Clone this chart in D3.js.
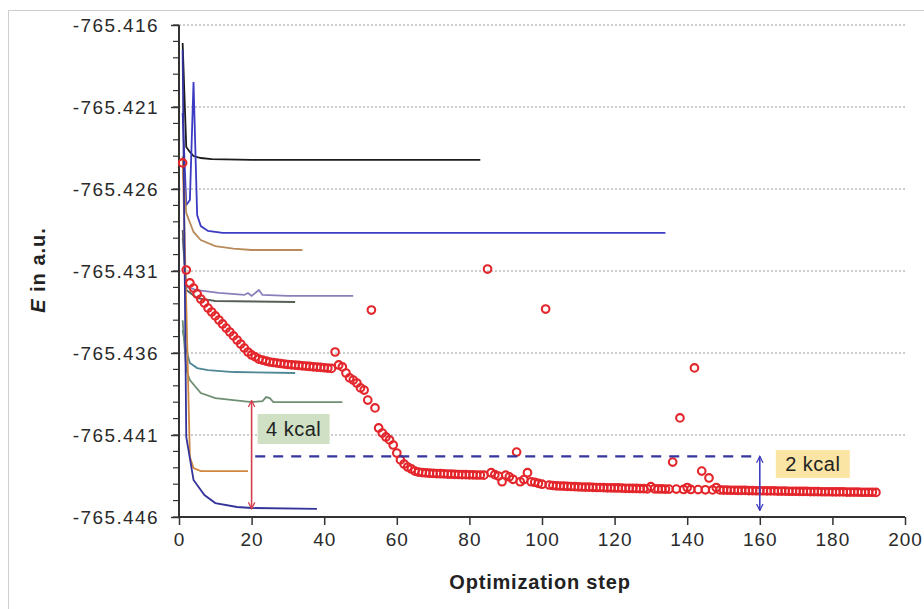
<!DOCTYPE html>
<html>
<head>
<meta charset="utf-8">
<script src="https://cdn.jsdelivr.net/npm/d3@7"></script>
<style>
  body { margin: 0; background: #fff; }
  svg { display: block; font-family: "Liberation Sans", Arial, sans-serif; }
</style>
</head>
<body>
<svg id="chart" width="924" height="609"></svg>
<script>
// axis ticks
var xTicks = [0, 20, 40, 60, 80, 100, 120, 140, 160, 180, 200];
var yTicks = [-765.446, -765.441, -765.436, -765.431, -765.426, -765.421, -765.416];

// individual optimisation runs: [step, energy]
var runBlack  = [[1,-765.4171],[2,-765.42344],[3,-765.42374],[4,-765.42399],[6,-765.42411],[9,-765.42418],[20,-765.42423],[83,-765.42423]];
var runBlue   = [[1,-765.42137],[2,-765.42698],[3,-765.42667],[4,-765.41948],[5,-765.42759],[6,-765.42826],[8,-765.42856],[12,-765.42868],[134,-765.42868]];
var runTan    = [[1,-765.4245],[2,-765.42746],[4,-765.42862],[6,-765.42911],[10,-765.42948],[15,-765.42963],[20,-765.42972],[34,-765.42972]];
var runPurple = [[1,-765.4290],[2,-765.43198],[5,-765.43216],[11,-765.43234],[18,-765.43246],[19,-765.43234],[20,-765.43252],[22,-765.43216],[23,-765.43246],[30,-765.43252],[48,-765.43252]];
var runGray   = [[1,-765.4285],[2,-765.43216],[5,-765.43265],[10,-765.43283],[32,-765.43289]];
var runTeal   = [[1,-765.4346],[2,-765.43581],[3,-765.43661],[5,-765.43692],[8,-765.43704],[15,-765.43716],[32,-765.43722]];
var runGreen  = [[1,-765.4340],[2,-765.43704],[3,-765.43765],[6,-765.43844],[10,-765.43875],[15,-765.43887],[20,-765.43899],[23,-765.43893],[24,-765.43869],[25,-765.43875],[26,-765.43899],[45,-765.43899]];
var runOrange = [[1,-765.4240],[2,-765.4330],[3,-765.44234],[4,-765.44301],[6,-765.44320],[19,-765.44320]];
var runNavy   = [[1,-765.4175],[2,-765.44112],[4,-765.44374],[7,-765.44466],[10,-765.44515],[16,-765.44539],[20,-765.44545],[38,-765.44551]];

var runs = [
  {data: runBlack,  color: '#1c1c1c'},
  {data: runBlue,   color: '#3b3bc4'},
  {data: runTan,    color: '#b98a5a'},
  {data: runPurple, color: '#8a7fb8'},
  {data: runGray,   color: '#566056'},
  {data: runTeal,   color: '#4e8796'},
  {data: runGreen,  color: '#6f8f72'},
  {data: runOrange, color: '#cf8740'},
  {data: runNavy,   color: '#33339a'}
];

// long run, one energy per step (step 1 .. 192)
var longRun = [
  -765.42441,-765.43094,-765.43173,-765.43204,-765.43240,-765.43271,-765.43295,-765.43326,-765.43350,-765.43374,
  -765.43399,-765.43423,-765.43448,-765.43472,-765.43496,-765.43521,-765.43545,-765.43570,-765.43594,-765.43612,
  -765.43624,-765.43637,-765.43643,-765.43649,-765.43655,-765.43658,-765.43661,-765.43664,-765.43667,-765.43670,
  -765.43672,-765.43674,-765.43676,-765.43678,-765.43680,-765.43682,-765.43684,-765.43686,-765.43688,-765.43690,
  -765.43692,-765.43694,-765.43594,-765.43673,-765.43685,-765.43722,-765.43752,-765.43765,-765.43783,-765.43813,
  -765.43826,-765.43887,-765.43338,-765.43935,-765.44057,-765.44088,-765.44112,-765.44130,-765.44161,-765.44210,
  -765.44252,-765.44277,-765.44295,-765.44307,-765.44320,-765.44326,-765.44329,-765.44331,-765.44333,-765.44334,
  -765.44335,-765.44336,-765.44337,-765.44338,-765.44339,-765.44340,-765.44341,-765.44342,-765.44342,-765.44343,
  -765.44343,-765.44344,-765.44344,-765.44345,-765.43088,-765.44330,-765.44342,-765.44350,-765.44385,-765.44345,
  -765.44355,-765.44370,-765.44204,-765.44385,-765.44372,-765.44330,-765.44385,-765.44388,-765.44395,-765.44400,
  -765.43332,-765.44405,-765.44408,-765.44410,-765.44411,-765.44412,-765.44413,-765.44414,-765.44415,-765.44416,
  -765.44417,-765.44418,-765.44418,-765.44419,-765.44420,-765.44420,-765.44421,-765.44422,-765.44422,-765.44423,
  -765.44423,-765.44424,-765.44425,-765.44425,-765.44426,-765.44426,-765.44427,-765.44427,-765.44428,-765.44415,
  -765.44428,-765.44429,-765.44429,-765.44430,-765.44430,-765.44265,-765.44430,-765.43996,-765.44432,-765.44420,
  -765.44432,-765.43691,-765.44433,-765.44320,-765.44434,-765.44362,-765.44435,-765.44420,-765.44435,-765.44436,
  -765.44436,-765.44437,-765.44437,-765.44438,-765.44438,-765.44438,-765.44439,-765.44439,-765.44440,-765.44440,
  -765.44440,-765.44441,-765.44441,-765.44441,-765.44442,-765.44442,-765.44442,-765.44443,-765.44443,-765.44443,
  -765.44444,-765.44444,-765.44444,-765.44445,-765.44445,-765.44445,-765.44446,-765.44446,-765.44446,-765.44447,
  -765.44447,-765.44447,-765.44447,-765.44448,-765.44448,-765.44448,-765.44448,-765.44449,-765.44449,-765.44449,
  -765.44449,-765.44450
];

// annotations
var gap4 = {step: 20, top: -765.4389, bottom: -765.4455, label: '4 kcal'};
var gap2 = {step: 160, top: -765.4423, bottom: -765.4456, label: '2 kcal', from: 21};

var svg = d3.select('#chart');
var plotLeft = 179, plotRight = 905, plotTop = 25, plotBottom = 517;

var x = d3.scaleLinear().domain([0, 200]).range([plotLeft, plotRight]);
var y = d3.scaleLinear().domain([-765.446, -765.416]).range([plotBottom, plotTop]);

// outer frame
svg.append('rect')
  .attr('x', 8.5).attr('y', 10.5).attr('width', 940).attr('height', 640)
  .attr('fill', 'none').attr('stroke', '#cfcfcf');

// grid
svg.append('g').selectAll('line')
  .data(yTicks.slice(1))
  .join('line')
  .attr('x1', plotLeft).attr('x2', plotRight)
  .attr('y1', function(d) { return y(d); }).attr('y2', function(d) { return y(d); })
  .attr('stroke', '#9a9a9a').attr('stroke-width', 1)
  .attr('stroke-dasharray', '2,2');

// y axis
var yAxis = d3.axisLeft(y).tickValues(yTicks)
  .tickFormat(function(d) { return d.toFixed(3); })
  .tickSize(8).tickPadding(12);
var gy = svg.append('g').attr('transform', 'translate(' + plotLeft + ',0)').call(yAxis);
gy.select('.domain').remove();
gy.selectAll('.tick line').attr('stroke', '#333').attr('stroke-width', 1.5);
gy.selectAll('.tick text')
  .attr('font-size', 19).attr('letter-spacing', 1.4).attr('fill', '#2a2a2a')
  .attr('font-family', '"Liberation Sans", Arial, sans-serif');

var minor = d3.range(0, 31).map(function(i) { return -765.446 + i * 0.001; });
svg.append('g').selectAll('line')
  .data(minor)
  .join('line')
  .attr('x1', plotLeft - 6).attr('x2', plotLeft)
  .attr('y1', function(d) { return y(d); }).attr('y2', function(d) { return y(d); })
  .attr('stroke', '#333').attr('stroke-width', 1.2);

svg.append('line')
  .attr('x1', plotLeft).attr('x2', plotLeft).attr('y1', plotTop).attr('y2', plotBottom)
  .attr('stroke', '#333').attr('stroke-width', 2);

// x axis
var xAxis = d3.axisBottom(x).tickValues(xTicks).tickSize(8).tickPadding(8);
var gx = svg.append('g').attr('transform', 'translate(0,' + plotBottom + ')').call(xAxis);
gx.select('.domain').attr('stroke', '#333').attr('stroke-width', 2).attr('d', 'M' + plotLeft + ',0H' + plotRight);
gx.selectAll('.tick line').attr('stroke', '#333').attr('stroke-width', 1.5);
gx.selectAll('.tick text')
  .attr('font-size', 19).attr('letter-spacing', 1).attr('fill', '#2a2a2a')
  .attr('font-family', '"Liberation Sans", Arial, sans-serif');

// axis titles
svg.append('text')
  .attr('x', 540).attr('y', 589)
  .attr('text-anchor', 'middle')
  .attr('font-size', 20).attr('font-weight', 'bold').attr('letter-spacing', 0.8)
  .attr('fill', '#222')
  .text('Optimization step');

var yt = svg.append('text')
  .attr('transform', 'translate(45,270) rotate(-90)')
  .attr('text-anchor', 'middle')
  .attr('font-size', 20).attr('font-weight', 'bold').attr('letter-spacing', 1)
  .attr('fill', '#222');
yt.append('tspan').attr('font-style', 'italic').text('E');
yt.append('tspan').text(' in a.u.');

// runs
var line = d3.line()
  .x(function(d) { return x(d[0]); })
  .y(function(d) { return y(d[1]); });

svg.append('g').selectAll('path')
  .data(runs)
  .join('path')
  .attr('d', function(d) { return line(d.data); })
  .attr('fill', 'none')
  .attr('stroke', function(d) { return d.color; })
  .attr('stroke-width', 1.8);

// long run markers
svg.append('g').selectAll('circle')
  .data(longRun)
  .join('circle')
  .attr('cx', function(d, i) { return x(i + 1); })
  .attr('cy', function(d) { return y(d); })
  .attr('r', 3.8)
  .attr('fill', 'none')
  .attr('stroke', '#e3262b')
  .attr('stroke-width', 2.1);

// arrow markers
var defs = svg.append('defs');
function arrowHead(id, color) {
  defs.append('marker')
    .attr('id', id)
    .attr('viewBox', '0 0 10 10')
    .attr('refX', 9).attr('refY', 5)
    .attr('markerWidth', 8).attr('markerHeight', 8)
    .attr('markerUnits', 'userSpaceOnUse')
    .attr('orient', 'auto-start-reverse')
    .append('path')
    .attr('d', 'M1,1L9,5L1,9')
    .attr('fill', 'none')
    .attr('stroke', color)
    .attr('stroke-width', 1.6);
}
arrowHead('headRed', '#d2404e');
arrowHead('headBlue', '#3f3fc0');

// 4 kcal gap
svg.append('line')
  .attr('x1', x(gap4.step)).attr('x2', x(gap4.step))
  .attr('y1', y(gap4.top)).attr('y2', y(gap4.bottom))
  .attr('stroke', '#d2404e').attr('stroke-width', 1.6)
  .attr('marker-start', 'url(#headRed)').attr('marker-end', 'url(#headRed)');

svg.append('rect')
  .attr('x', x(gap4.step) + 6).attr('y', 414)
  .attr('width', 72).attr('height', 30)
  .attr('fill', '#cfe0c4');
svg.append('text')
  .attr('x', x(gap4.step) + 42).attr('y', 436)
  .attr('text-anchor', 'middle')
  .attr('font-size', 20).attr('letter-spacing', 0.5).attr('fill', '#222')
  .text(gap4.label);

// 2 kcal gap
svg.append('line')
  .attr('x1', x(gap2.from)).attr('x2', x(gap2.step))
  .attr('y1', y(gap2.top)).attr('y2', y(gap2.top))
  .attr('stroke', '#35359c').attr('stroke-width', 2.2)
  .attr('stroke-dasharray', '10,8');

svg.append('line')
  .attr('x1', x(gap2.step)).attr('x2', x(gap2.step))
  .attr('y1', y(gap2.top)).attr('y2', y(gap2.bottom))
  .attr('stroke', '#3f3fc0').attr('stroke-width', 1.6)
  .attr('marker-start', 'url(#headBlue)').attr('marker-end', 'url(#headBlue)');

svg.append('rect')
  .attr('x', x(gap2.step) + 16).attr('y', 450)
  .attr('width', 74).attr('height', 28)
  .attr('fill', '#fbe5a4');
svg.append('text')
  .attr('x', x(gap2.step) + 53).attr('y', 471)
  .attr('text-anchor', 'middle')
  .attr('font-size', 20).attr('letter-spacing', 0.5).attr('fill', '#222')
  .text(gap2.label);
</script>
</body>
</html>
